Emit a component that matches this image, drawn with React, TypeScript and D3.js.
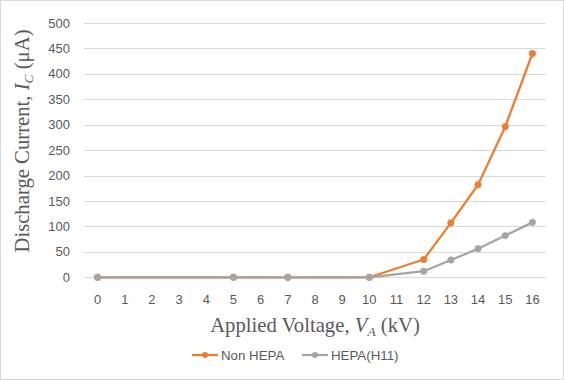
import React from "react";
import * as d3 from "d3";

const categories = ["0","1","2","3","4","5","6","7","8","9","10","11","12","13","14","15","16"];
const nonHepa: (number | null)[] = [0, null, null, null, null, 0, null, 0, null, null, 0, null, 35, 107, 182, 296, 440];
const hepaH11: (number | null)[] = [0, null, null, null, null, 0, null, 0, null, null, 0, null, 12, 34, 56, 82, 108];
const yTicks = [0, 50, 100, 150, 200, 250, 300, 350, 400, 450, 500];
const seriesNames = ["Non HEPA", "HEPA(H11)"];
const seriesColors = ["#ED7D31", "#A5A5A5"];

const W = 564, H = 380;
const left = 84, right = 546, top = 23, bottom = 277.3;

export default function App() {
  const x = d3.scaleBand<string>().domain(categories).range([left, right]).padding(0);
  const y = d3.scaleLinear().domain([0, 500]).range([bottom, top]);
  const cx = (c: string) => (x(c) as number) + x.bandwidth() / 2;
  const series = [nonHepa, hepaH11];
  const line = d3.line<{ c: string; v: number }>().x(d => cx(d.c)).y(d => y(d.v));
  const tickFont = "'Liberation Sans', Arial, sans-serif";
  const serif = "'Liberation Serif', 'Times New Roman', serif";
  return (
    <svg width={W} height={H} style={{ position: "absolute", left: 0, top: 0, background: "#fff" }}>
      <rect x={0.5} y={0.5} width={W - 1} height={H - 1} fill="#fff" stroke="#D9D9D9" />
      {yTicks.map(t => (
        <g key={t}>
          <line x1={left} x2={right} y1={Math.round(y(t)) + 0.5} y2={Math.round(y(t)) + 0.5} stroke="#D9D9D9" strokeWidth={1} />
          <text x={70} y={y(t)} dy="0.35em" textAnchor="end" fontFamily={tickFont} fontSize={13} fill="#595959">{t}</text>
        </g>
      ))}
      {categories.map(c => (
        <text key={c} x={cx(c)} y={299} dy="0.35em" textAnchor="middle" fontFamily={tickFont} fontSize={13} fill="#595959">{c}</text>
      ))}
      {series.map((s, i) => {
        const pts = categories.map((c, j) => ({ c, v: s[j] })).filter(d => d.v !== null) as { c: string; v: number }[];
        return (
          <g key={i}>
            <path d={line(pts) || ""} fill="none" stroke={seriesColors[i]} strokeWidth={2.25} strokeLinejoin="round" />
            {pts.map(p => (
              <circle key={p.c} cx={cx(p.c)} cy={y(p.v)} r={3.2} fill={seriesColors[i]} stroke={seriesColors[i]} strokeWidth={0.75} />
            ))}
          </g>
        );
      })}
      <text x={315} y={332} textAnchor="middle" fontFamily={serif} fontSize={20.7} fill="#595959">
        Applied Voltage, <tspan fontStyle="italic">V</tspan><tspan fontStyle="italic" fontSize={13.5} dy={4}>A</tspan><tspan dy={-4}> (kV)</tspan>
      </text>
      <text transform="translate(29,141) rotate(-90)" textAnchor="middle" fontFamily={serif} fontSize={20.7} fill="#595959">
        Discharge Current, <tspan fontStyle="italic">I</tspan><tspan fontStyle="italic" fontSize={13.5} dy={4}>C</tspan><tspan dy={-4}> (μA)</tspan>
      </text>
      {seriesNames.map((n, i) => {
        const lx = i === 0 ? 192 : 302;
        return (
          <g key={n}>
            <line x1={lx} x2={lx + 26} y1={355} y2={355} stroke={seriesColors[i]} strokeWidth={2.25} />
            <circle cx={lx + 13} cy={355} r={3} fill={seriesColors[i]} />
            <text x={lx + 29} y={355} dy="0.35em" fontFamily={tickFont} fontSize={13.3} fill="#595959">{n}</text>
          </g>
        );
      })}
    </svg>
  );
}
